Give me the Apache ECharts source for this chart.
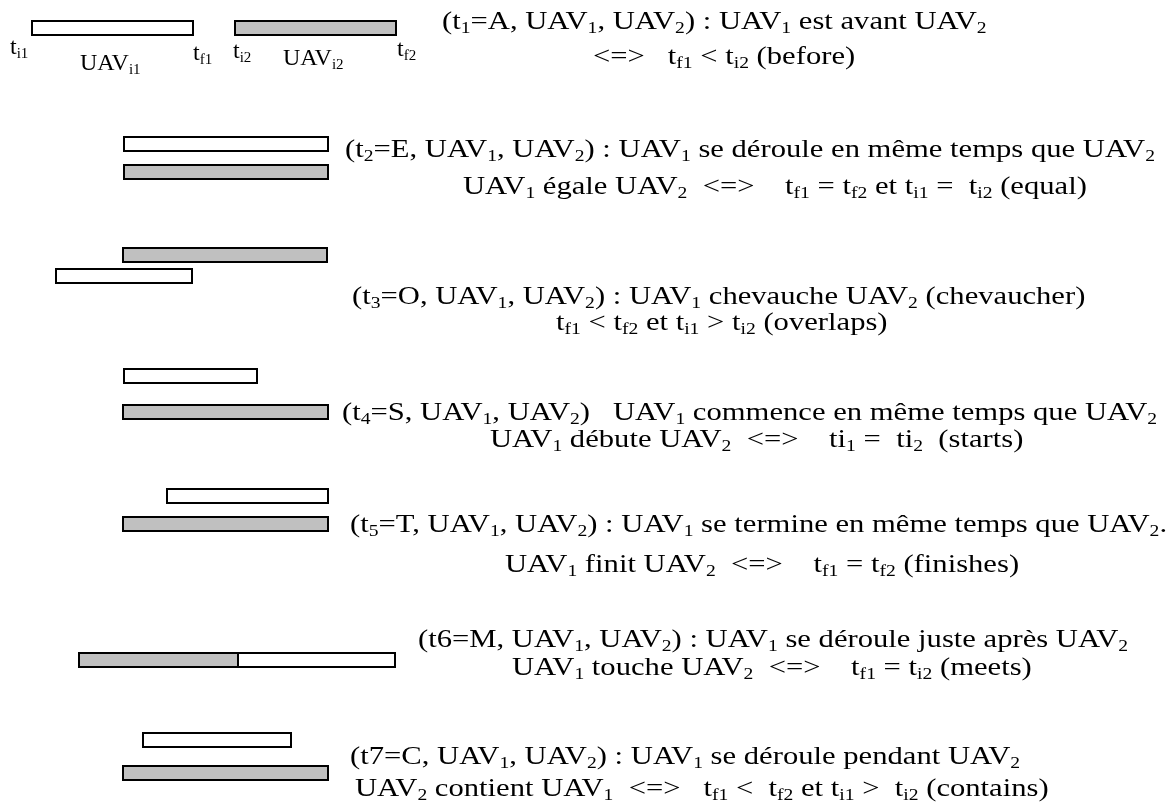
<!DOCTYPE html>
<html>
<head>
<meta charset="utf-8">
<script src="https://cdn.jsdelivr.net/npm/echarts@6/dist/echarts.min.js"></script>
<style>
  html, body { margin: 0; padding: 0; background: #fff; }
  #chart { width: 1175px; height: 803px; }
</style>
</head>
<body>
<div id="chart"></div>
<script>
// Allen relations t1..t7
var relations = ['A', 'E', 'O', 'S', 'T', 'M', 'C'];
// UAV1 (white) and UAV2 (grey) intervals, time units on x
var uav1Start = [32, 124, 56, 124, 167, 238, 143];
var uav1End = [193, 328, 192, 257, 328, 395, 291];
var uav2Start = [235, 124, 123, 123, 123, 79, 123];
var uav2End = [396, 328, 327, 328, 328, 238, 328];
// vertical level of each bar
var uav1Level = [28, 144, 276, 376, 496, 660, 740];
var uav2Level = [28, 172, 255, 412, 524, 660, 773];

// description lines (x_ marks a subscript)
var line1 = [
  '(t_1=A, UAV_1, UAV_2) : UAV_1 est avant UAV_2',
  '(t_2=E, UAV_1, UAV_2) : UAV_1 se déroule en même temps que UAV_2',
  '(t_3=O, UAV_1, UAV_2) : UAV_1 chevauche UAV_2 (chevaucher)',
  '(t_4=S, UAV_1, UAV_2)   UAV_1 commence en même temps que UAV_2',
  '(t_5=T, UAV_1, UAV_2) : UAV_1 se termine en même temps que UAV_2.',
  '(t6=M, UAV_1, UAV_2) : UAV_1 se déroule juste après UAV_2',
  '(t7=C, UAV_1, UAV_2) : UAV_1 se déroule pendant UAV_2'
];
var line2 = [
  '<=>   t_f1 < t_i2 (before)',
  'UAV_1 égale UAV_2  <=>    t_f1 = t_f2 et t_i1 =  t_i2 (equal)',
  't_f1 < t_f2 et t_i1 > t_i2 (overlaps)',
  'UAV_1 débute UAV_2  <=>    ti_1 =  ti_2  (starts)',
  'UAV_1 finit UAV_2  <=>    t_f1 = t_f2 (finishes)',
  'UAV_1 touche UAV_2  <=>    t_f1 = t_i2 (meets)',
  'UAV_2 contient UAV_1  <=>   t_f1 <  t_f2 et t_i1 >  t_i2 (contains)'
];
// bound labels of the first row
var boundLabels = ['t_i1', 'UAV_i1', 't_f1', 't_i2', 'UAV_i2', 't_f2'];

var FONT = 'Liberation Serif';
var richText = {
  n: { fontFamily: FONT, fontSize: 25, lineHeight: 29, color: '#000' },
  s: { fontFamily: FONT, fontSize: 16, lineHeight: 17, verticalAlign: 'bottom', color: '#000' }
};
var richLabel = {
  n: { fontFamily: FONT, fontSize: 24, lineHeight: 28, color: '#000' },
  s: { fontFamily: FONT, fontSize: 15, lineHeight: 16, verticalAlign: 'bottom', color: '#000' }
};

function toRich(str) {
  var out = '';
  var parts = str.split(/_([a-z0-9]+)/);
  for (var i = 0; i < parts.length; i++) {
    if (!parts[i]) continue;
    out += (i % 2 ? '{s|' : '{n|') + parts[i] + '}';
  }
  return out;
}

function textEl(str, x, y, rich, sx) {
  return {
    type: 'text', x: x, y: y, scaleX: sx, silent: true,
    style: { text: toRich(str), rich: rich, verticalAlign: 'middle', align: 'left', fill: '#000' }
  };
}

var line1Pos = [[442, 22], [345, 150], [352, 297], [342, 413], [350, 525], [418, 640], [350, 757]];
var line2Pos = [[593, 57], [463, 187], [556, 323], [490, 440], [505, 565], [512, 668], [355, 789]];
var boundPos = [[10, 48], [80, 64], [193, 54], [233, 52], [283, 59], [397, 50]];

var graphics = [];
relations.forEach(function (r, i) {
  graphics.push(textEl(line1[i], line1Pos[i][0], line1Pos[i][1], richText, 1.225));
  graphics.push(textEl(line2[i], line2Pos[i][0], line2Pos[i][1], richText, 1.225));
});
boundLabels.forEach(function (b, i) {
  graphics.push(textEl(b, boundPos[i][0], boundPos[i][1], richLabel, 1));
});

var barData = [];
relations.forEach(function (r, i) {
  barData.push([uav2Start[i], uav2End[i], uav2Level[i], 1]);
  barData.push([uav1Start[i], uav1End[i], uav1Level[i], 0]);
});

var myChart = echarts.init(document.getElementById('chart'));
var option = {
  animation: false,
  grid: { left: 0, right: 0, top: 0, bottom: 0 },
  xAxis: { type: 'value', min: 0, max: 1175, show: false },
  yAxis: { type: 'value', min: 0, max: 803, inverse: true, show: false },
  graphic: graphics,
  series: [{
    type: 'custom',
    data: barData,
    renderItem: function (params, api) {
      var a = api.coord([api.value(0), api.value(2)]);
      var b = api.coord([api.value(1), api.value(2)]);
      var h = 14;
      return {
        type: 'rect',
        shape: { x: a[0], y: a[1] - h / 2, width: b[0] - a[0], height: h },
        style: { fill: api.value(3) ? '#c0c0c0' : '#fff', stroke: '#000', lineWidth: 2 }
      };
    }
  }]
};
myChart.setOption(option);
window.addEventListener('resize', function () { myChart.resize(); });
</script>
</body>
</html>
